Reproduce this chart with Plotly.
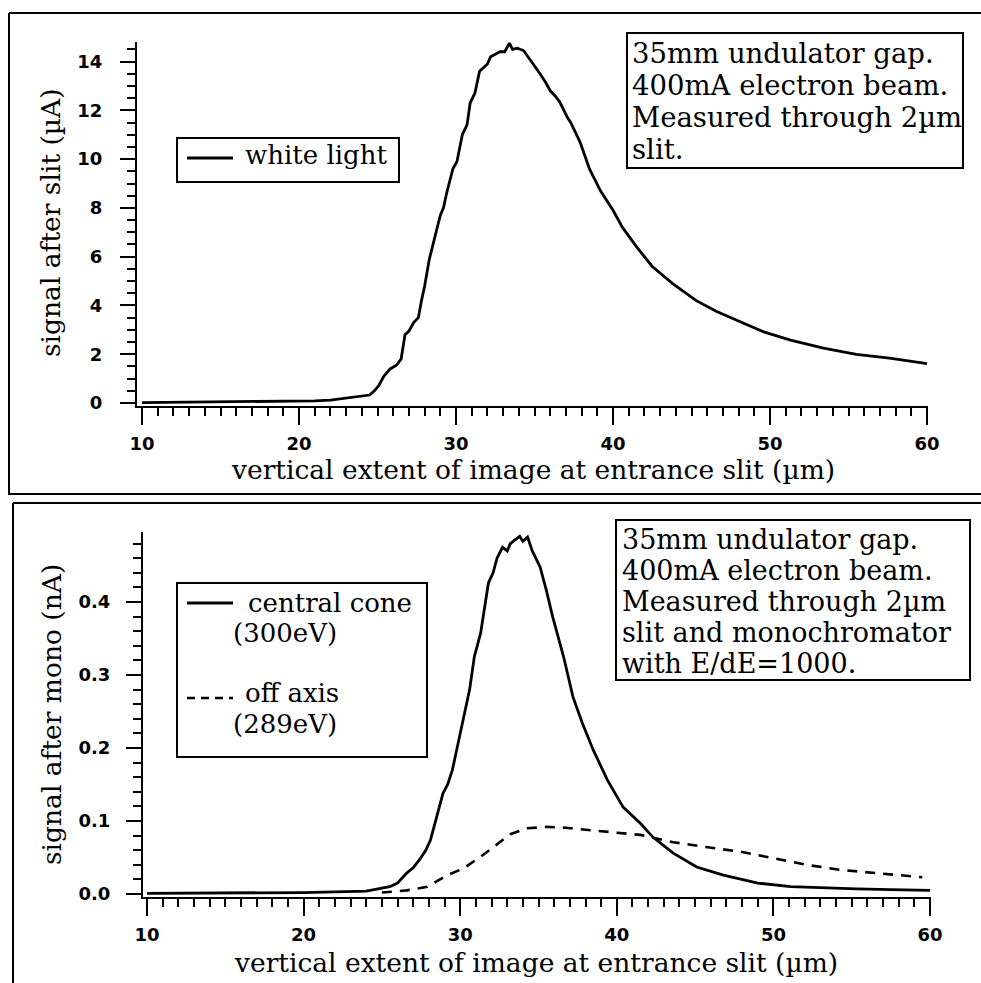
import plotly.graph_objects as go

# ---------------- data ----------------
white_x = [10, 12, 14, 16, 18, 20, 21, 22, 23, 24, 24.5, 24.8, 25.1, 25.4, 25.8, 26.2, 26.5,
           26.75, 27.0, 27.3, 27.6, 27.8, 28.0, 28.3, 28.7, 29.0, 29.2, 29.4, 29.8, 30.06,
           30.4, 30.7, 30.9, 31.2, 31.5, 32.0, 32.2, 32.8, 33.1, 33.4, 33.6, 33.9, 34.3, 34.7,
           35.0, 35.35, 35.7, 36.0, 36.3, 36.6, 37.1, 37.3, 37.9, 38.5, 39.2, 40.0, 40.6,
           41.5, 42.5, 43.8, 45.3, 46.6, 48.1, 49.6, 51.3, 53.4, 55.5, 57.6, 60]
white_y = [0.02, 0.03, 0.05, 0.06, 0.06, 0.07, 0.09, 0.12, 0.2, 0.28, 0.33, 0.5, 0.74, 1.1,
           1.4, 1.55, 1.8, 2.8, 2.95, 3.3, 3.5, 4.2, 4.8, 5.9, 6.9, 7.7, 8.0, 8.6, 9.6, 9.9,
           11.0, 11.4, 12.3, 12.7, 13.6, 13.9, 14.2, 14.4, 14.4, 14.75, 14.5, 14.55, 14.45,
           14.1, 13.8, 13.5, 13.15, 12.8, 12.6, 12.35, 11.7, 11.5, 10.7, 9.6, 8.7, 7.9, 7.2,
           6.4, 5.6, 4.9, 4.2, 3.75, 3.33, 2.92, 2.58, 2.25, 2.0, 1.84, 1.62]

cone_x = [10, 12, 14, 16, 18, 20, 22, 23, 24, 25, 25.5, 26.0, 26.6, 27.0, 27.4, 27.8, 28.1,
          28.5, 28.9, 29.2, 29.5, 29.8, 30.3, 30.6, 30.9, 31.3, 31.8, 32.1, 32.35, 32.7, 33.0,
          33.2, 33.5, 33.8, 34.0, 34.3, 34.6, 35.1, 35.5, 35.9, 36.6, 37.2, 37.8, 38.5, 39.4,
          40.4, 41.5, 42.3, 43.6, 45.1, 46.8, 49.0, 51.1, 53.2, 55.3, 57.5, 60]
cone_y = [0.001, 0.001, 0.001, 0.001, 0.001, 0.002, 0.003, 0.003, 0.004, 0.008, 0.01, 0.015,
          0.029, 0.036, 0.047, 0.06, 0.074, 0.106, 0.138, 0.15, 0.17, 0.2, 0.25, 0.28, 0.325,
          0.357, 0.426, 0.44, 0.46, 0.475, 0.47, 0.48, 0.485, 0.49, 0.483, 0.489, 0.47, 0.448,
          0.416, 0.38, 0.325, 0.27, 0.234, 0.197, 0.156, 0.119, 0.097, 0.078, 0.056, 0.037,
          0.026, 0.015, 0.01, 0.008, 0.007, 0.006, 0.005]

off_x = [25.0, 26.6, 27.9, 29.2, 30.2, 31.3, 32.1, 33.2, 34.3, 35.5, 36.6, 38.3, 40.0, 41.5,
         43.6, 45.8, 47.9, 50.0, 52.1, 54.3, 56.4, 58.0, 59.5]
off_y = [0.002, 0.005, 0.01, 0.026, 0.035, 0.051, 0.064, 0.082, 0.09, 0.092, 0.091, 0.088,
         0.084, 0.081, 0.071, 0.064, 0.058, 0.049, 0.04, 0.033, 0.029, 0.026, 0.023]

note_top = ["35mm undulator gap.", "400mA electron beam.", "Measured through 2\u00b5m", "slit."]
note_bottom = ["35mm undulator gap.", "400mA electron beam.", "Measured through 2\u00b5m",
               "slit and monochromator", "with E/dE=1000."]
xtitle = "vertical extent of image at entrance slit (\u00b5m)"
ytitle_top = "signal after slit (\u00b5A)"
ytitle_bottom = "signal after mono (nA)"

# ---------------- layout helpers ----------------
W, H = 981, 983
def px(x):
    return x / W
def py(y):
    return 1 - y / H

SERIF = "DejaVu Serif"
SANS = "DejaVu Sans"

fig = go.Figure()
fig.add_trace(go.Scatter(x=white_x, y=white_y, mode="lines", name="white light",
                         line=dict(color="black", width=2.8), xaxis="x", yaxis="y",
                         showlegend=False))
fig.add_trace(go.Scatter(x=cone_x, y=cone_y, mode="lines", name="central cone (300eV)",
                         line=dict(color="black", width=2.8), xaxis="x2", yaxis="y2",
                         showlegend=False))
fig.add_trace(go.Scatter(x=off_x, y=off_y, mode="lines", name="off axis (289eV)",
                         line=dict(color="black", width=2.6, dash="10px,8px"),
                         xaxis="x2", yaxis="y2", showlegend=False))

axis_common = dict(showline=True, linecolor="black", linewidth=2, ticks="outside",
                   tickcolor="black", tickwidth=2, showgrid=False, zeroline=False,
                   tickfont=dict(family=SANS, size=18, color="black", weight="bold"))

fig.update_layout(
    width=W, height=H, margin=dict(l=0, r=0, t=0, b=0, autoexpand=False),
    paper_bgcolor="white", plot_bgcolor="white", showlegend=False,
    xaxis=dict(domain=[px(137), px(928)], range=[9.68, 60.06], anchor="y",
               tick0=10, dtick=10, ticklen=17, ticklabelstandoff=3,
               minor=dict(ticks="outside", dtick=1, tick0=10, ticklen=8,
                          tickwidth=2, tickcolor="black"),
               **axis_common),
    yaxis=dict(domain=[py(406), py(42)], range=[-0.12, 14.8], anchor="x",
               tick0=0, dtick=2, ticklen=15, ticklabelstandoff=14,
               minor=dict(ticks="outside", dtick=0.5, tick0=0, ticklen=8,
                          tickwidth=2, tickcolor="black"),
               **axis_common),
    xaxis2=dict(domain=[px(143), px(931)], range=[9.745, 60.06], anchor="y2",
                tick0=10, dtick=10, ticklen=17, ticklabelstandoff=3,
                minor=dict(ticks="outside", dtick=1, tick0=10, ticklen=8,
                           tickwidth=2, tickcolor="black"),
                **axis_common),
    yaxis2=dict(domain=[py(897), py(532)], range=[-0.0041, 0.4959], anchor="x2",
                tick0=0, dtick=0.1, tickformat=".1f", ticklen=15, ticklabelstandoff=12,
                minor=dict(ticks="outside", dtick=0.02, tick0=0, ticklen=8,
                           tickwidth=2, tickcolor="black"),
                **axis_common),
)

shapes = []
def pline(x0, y0, x1, y1, width=2, dash=None):
    d = dict(type="line", xref="paper", yref="paper", x0=px(x0), y0=py(y0),
             x1=px(x1), y1=py(y1), line=dict(color="black", width=width))
    if dash:
        d["line"]["dash"] = dash
    shapes.append(d)
def prect(x0, y0, x1, y1, width=2):
    shapes.append(dict(type="rect", xref="paper", yref="paper", x0=px(x0), y0=py(y0),
                       x1=px(x1), y1=py(y1), line=dict(color="black", width=width),
                       fillcolor="rgba(0,0,0,0)"))

# panel frames
pline(9, 13, 981, 13)
pline(9, 13, 9, 495)
pline(9, 494, 981, 494)
pline(13, 503, 981, 503)
pline(13, 503, 13, 983)

# annotation boxes
prect(627, 33, 963, 168)
prect(616, 520, 970, 680)

# legends
prect(177, 138, 399, 182)
pline(187, 158, 233, 158, width=2.8)
prect(177, 583, 427, 757)
pline(187, 603, 233, 603, width=2.8)
pline(187, 698, 233, 698, width=2.6, dash="8px,6px")

annotations = []
def text(x, y, s, size=26, anchor="left", angle=0):
    annotations.append(dict(xref="paper", yref="paper", x=px(x), y=py(y), text=s,
                            showarrow=False, xanchor=anchor, yanchor="middle",
                            textangle=angle,
                            font=dict(family=SERIF, size=size, color="black")))

for i, s in enumerate(note_top):
    text(630, 53 + i * 32, s, size=27.5)
for i, s in enumerate(note_bottom):
    text(620, 539 + i * 31, s, size=27)

text(243, 155, "white light", size=26)
text(246, 603, "central cone", size=26)
text(231, 633, "(300eV)", size=26)
text(243, 693, "off axis", size=26)
text(231, 724, "(289eV)", size=26)

text(533, 469, xtitle, size=26.5, anchor="center")
text(536, 962, xtitle, size=26.5, anchor="center")
text(51, 223, ytitle_top, size=26.5, anchor="center", angle=-90)
text(51, 715, ytitle_bottom, size=26.5, anchor="center", angle=-90)

fig.update_layout(shapes=shapes, annotations=annotations)
fig.write_html(
    "out.html",
    config={"displayModeBar": False},
    post_script="document.body.style.margin='0';document.body.style.overflow='hidden';"
                "document.documentElement.style.overflow='hidden';",
)
